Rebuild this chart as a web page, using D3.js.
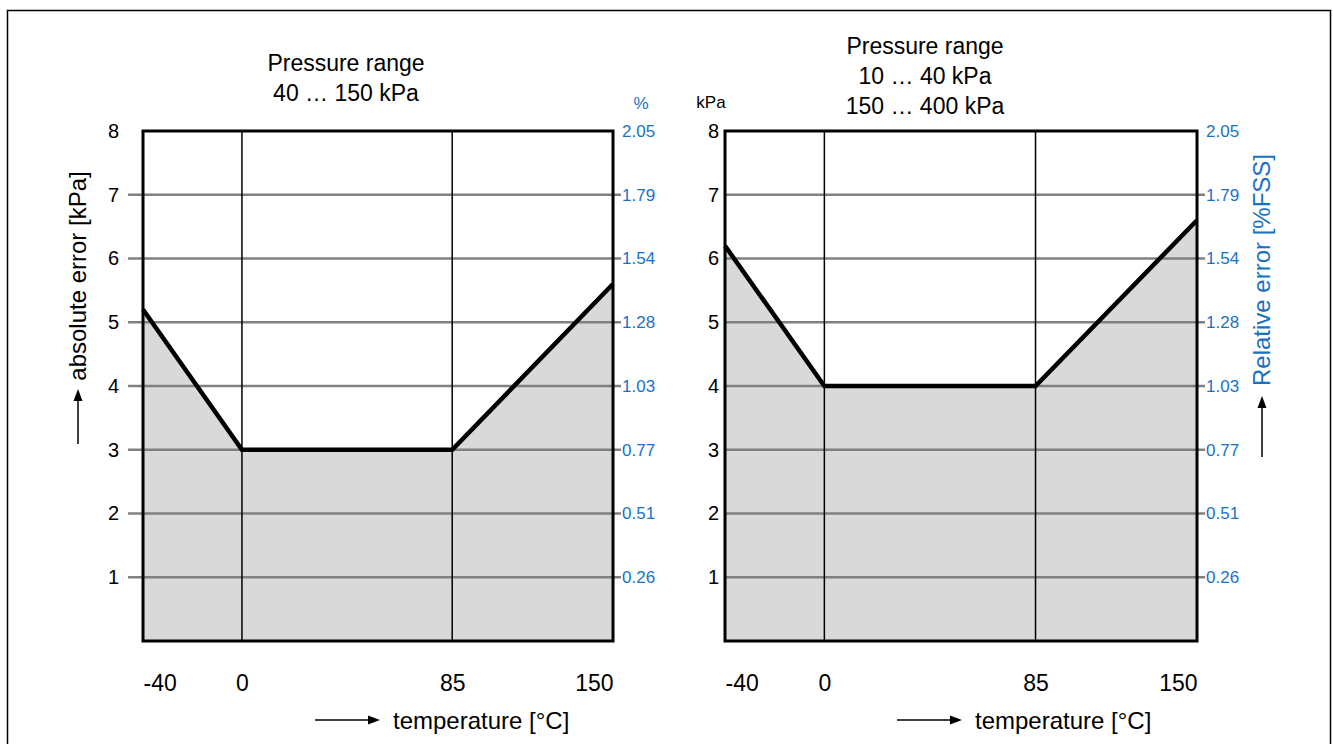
<!DOCTYPE html>
<html>
<head>
<meta charset="utf-8">
<script src="https://cdn.jsdelivr.net/npm/d3@7"></script>
<style>
  html, body { margin: 0; padding: 0; background: #fff; }
  svg { display: block; font-family: "Liberation Sans", Arial, sans-serif; }
</style>
</head>
<body>
<svg id="chart" width="1333" height="744"></svg>
<script>
// ---------- data ----------
const temperatureTicks = [-40, 0, 85, 150];
const absErrorTicks = [1, 2, 3, 4, 5, 6, 7, 8];
const relErrorTicks = ["0.26", "0.51", "0.77", "1.03", "1.28", "1.54", "1.79", "2.05"];
const breakpoints = [-40, 0, 85, 150];
const errorLeft = [5.2, 3, 3, 5.6];   // 40 … 150 kPa
const errorRight = [6.2, 4, 4, 6.6];  // 10 … 40 kPa, 150 … 400 kPa
const titleLeft = ["Pressure range", "40 … 150 kPa"];
const titleRight = ["Pressure range", "10 … 40 kPa", "150 … 400 kPa"];

const BLUE = "#1a72c4";
const GRID = "#808080";
const FILL = "#d9d9d9";
const FONT = "Liberation Sans, Arial, sans-serif";

const svg = d3.select("#chart");

// outer frame
svg.append("rect").attr("x", 7.5).attr("y", 10.5).attr("width", 1323).attr("height", 760)
  .attr("fill", "none").attr("stroke", "#000").attr("stroke-width", 1.5);

function panel(cfg) {
  const x = d3.scaleLinear().domain([-40, 150]).range([cfg.x0, cfg.x1]);
  const y = d3.scaleLinear().domain([0, 8]).range([641, 131]);
  const g = svg.append("g");
  const data = breakpoints.map((t, i) => ({ t, e: cfg.values[i] }));

  // fill
  g.append("path").datum(data)
    .attr("d", d3.area().x(d => x(d.t)).y0(y(0)).y1(d => y(d.e)))
    .attr("fill", FILL);

  // gridlines with outer ticks
  g.selectAll("line.grid").data(absErrorTicks.filter(v => v < 8)).join("line")
    .attr("class", "grid")
    .attr("x1", cfg.x0 - cfg.leftTick).attr("x2", cfg.x1 + 8)
    .attr("y1", d => y(d)).attr("y2", d => y(d))
    .attr("stroke", GRID).attr("stroke-width", 2.5);

  // vertical lines at 0 and 85
  g.selectAll("line.vert").data([0, 85]).join("line")
    .attr("class", "vert")
    .attr("x1", d => x(d)).attr("x2", d => x(d))
    .attr("y1", y(8)).attr("y2", y(0))
    .attr("stroke", "#000").attr("stroke-width", 1.5);

  // data line
  g.append("path").datum(data)
    .attr("d", d3.line().x(d => x(d.t)).y(d => y(d.e)))
    .attr("fill", "none").attr("stroke", "#000").attr("stroke-width", 4.5)
    .attr("stroke-linejoin", "miter");

  // box
  g.append("rect").attr("x", cfg.x0).attr("y", y(8))
    .attr("width", cfg.x1 - cfg.x0).attr("height", y(0) - y(8))
    .attr("fill", "none").attr("stroke", "#000").attr("stroke-width", 3);

  // left axis labels
  const la = d3.axisLeft(y).tickValues(absErrorTicks).tickSize(0).tickPadding(cfg.leftPad);
  const lg = g.append("g").attr("transform", `translate(${cfg.x0},0)`).call(la);
  lg.select(".domain").remove();
  lg.selectAll("text").attr("font-size", 20).attr("fill", "#000").attr("font-family", FONT);

  // right axis labels (relative)
  const ra = d3.axisRight(y).tickValues(absErrorTicks)
    .tickFormat((d, i) => relErrorTicks[i]).tickSize(0).tickPadding(9);
  const rg = g.append("g").attr("transform", `translate(${cfg.x1},0)`).call(ra);
  rg.select(".domain").remove();
  rg.selectAll("text").attr("font-size", 17).attr("fill", BLUE).attr("font-family", FONT);

  // x axis labels
  const xa = d3.axisBottom(x).tickValues(temperatureTicks).tickFormat(d => String(d))
    .tickSize(0).tickPadding(34);
  const xg = g.append("g").attr("transform", `translate(0,${y(0)})`).call(xa);
  xg.select(".domain").remove();
  xg.selectAll("text").attr("font-size", 23).attr("fill", "#000").attr("font-family", FONT)
    .attr("text-anchor", d => d === -40 ? "start" : d === 150 ? "end" : "middle");

  // title
  const tt = g.append("text").attr("text-anchor", "middle").attr("font-size", 23).attr("fill", "#000");
  cfg.title.forEach((s, i) => {
    tt.append("tspan").attr("x", cfg.titleX).attr("y", cfg.titleY + i * 30).text(s);
  });

  // x-axis title with arrow
  const ax = cfg.x0 + 172;
  g.append("line").attr("x1", ax).attr("x2", ax + 57).attr("y1", 720).attr("y2", 720)
    .attr("stroke", "#000").attr("stroke-width", 1.5);
  g.append("path").attr("d", `M${ax + 65},720 L${ax + 53},715.5 L${ax + 53},724.5 Z`).attr("fill", "#000");
  g.append("text").attr("x", ax + 78).attr("y", 729).attr("font-size", 24).attr("fill", "#000")
    .text("temperature [°C]");

  return { x, y };
}

panel({ x0: 143, x1: 613, values: errorLeft, leftTick: 15, leftPad: 24, title: titleLeft, titleX: 346, titleY: 71 });
panel({ x0: 725, x1: 1197, values: errorRight, leftTick: 0, leftPad: 6, title: titleRight, titleX: 925, titleY: 54 });

// unit labels
svg.append("text").attr("x", 641).attr("y", 109).attr("text-anchor", "middle")
  .attr("font-size", 17).attr("fill", BLUE).text("%");
svg.append("text").attr("x", 711).attr("y", 108).attr("text-anchor", "middle")
  .attr("font-size", 17).attr("fill", "#000").text("kPa");

// left y-axis title with arrow
svg.append("text").attr("transform", "translate(78,276) rotate(-90)")
  .attr("text-anchor", "middle").attr("dy", "0.35em").attr("font-size", 24).attr("fill", "#000")
  .text("absolute error [kPa]");
svg.append("line").attr("x1", 78).attr("x2", 78).attr("y1", 444).attr("y2", 398)
  .attr("stroke", "#000").attr("stroke-width", 1.5);
svg.append("path").attr("d", "M78,389 L73.5,401 L82.5,401 Z").attr("fill", "#000");

// right y-axis title with arrow
svg.append("text").attr("transform", "translate(1262,270) rotate(-90)")
  .attr("text-anchor", "middle").attr("dy", "0.35em").attr("font-size", 24).attr("fill", BLUE)
  .text("Relative error [%FSS]");
svg.append("line").attr("x1", 1262).attr("x2", 1262).attr("y1", 457).attr("y2", 405)
  .attr("stroke", "#000").attr("stroke-width", 1.5);
svg.append("path").attr("d", "M1262,396 L1257.5,408 L1266.5,408 Z").attr("fill", "#000");
</script>
</body>
</html>
